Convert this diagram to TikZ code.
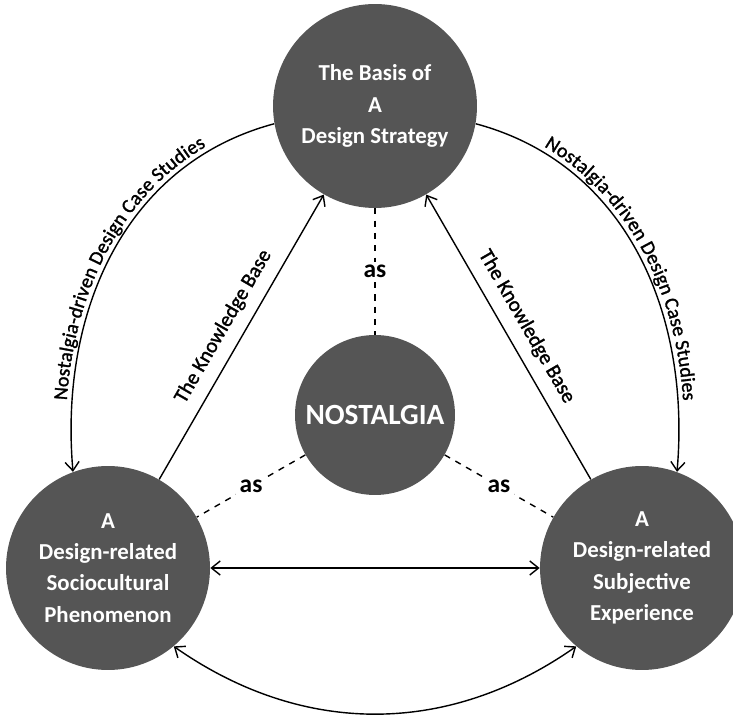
\documentclass[tikz,border=0pt]{standalone}
\usepackage{fontspec}
\setmainfont{Carlito}
\newfontface\lblface[FakeBold=1.4]{Carlito}
\usepackage{xcolor}
\usetikzlibrary{arrows.meta,decorations.text}

\definecolor{circgray}{HTML}{555555}
\newcommand{\lblfont}{\lblface\fontsize{11.8}{14}\selectfont}
\newcommand{\curvefont}{\lblface\fontsize{11.3}{14}\selectfont}

\begin{document}
\begin{tikzpicture}[x=0.02cm, y=-0.02cm,
  every node/.style={font=\lblfont},
  >={Straight Barb[length=5pt, width=8pt]},
  circ/.style={circle, fill=circgray, text=white, align=center, inner sep=0pt, minimum size=4.08cm, font=\fontsize{13}{17.8}\selectfont\bfseries},
  conn/.style={line width=0.8pt},
  link/.style={line width=0.8pt, dash pattern=on 3.5pt off 3.5pt},
  aslbl/.style={fill=white, inner sep=2pt, font=\fontsize{14.5}{16}\selectfont\bfseries},
  curvetext/.style={decorate, decoration={text along path, text align=center, raise=3pt, text={|\curvefont|Nostalgia-driven Design Case Studies}}}]
\useasboundingbox (0,0) rectangle (733,722);
\node[circ] (basis) at (375,106) {The Basis of\\A\\Design Strategy};
\node[circ] (pheno) at (108,568) {A\\Design-related\\Sociocultural\\Phenomenon};
\node[circ] (exper) at (642,568) {A\\Design-related\\Subjective\\Experience};
\node[circ, minimum size=3.2cm, font=\fontsize{16.7}{18}\selectfont\bfseries] (nost) at (375,415) {NOSTALGIA};
% "as" links
\draw[link] (basis) -- node[aslbl]{as} (nost);
\draw[link] (nost) -- node[aslbl]{as} (pheno);
\draw[link] (nost) -- node[aslbl]{as} (exper);
% knowledge base
\draw[conn, ->] (pheno) -- node[sloped, above=3pt]{The Knowledge Base} (basis);
\draw[conn, ->] (exper) -- node[sloped, above=3pt]{The Knowledge Base} (basis);
% case studies
\draw[conn, ->] (basis.190) to[out=195, in=95] (pheno.110);
\path[curvetext] (pheno.110) to[out=95, in=195] (basis.190);
\draw[conn, ->] (basis.350) to[out=-15, in=85] (exper.70);
\path[curvetext] (basis.350) to[out=-15, in=85] (exper.70);
% bottom
\draw[conn, <->] (pheno) -- (exper);
\draw[conn, <->] (pheno.-50) to[out=-35, in=-145] (exper.230);
\end{tikzpicture}
\end{document}
